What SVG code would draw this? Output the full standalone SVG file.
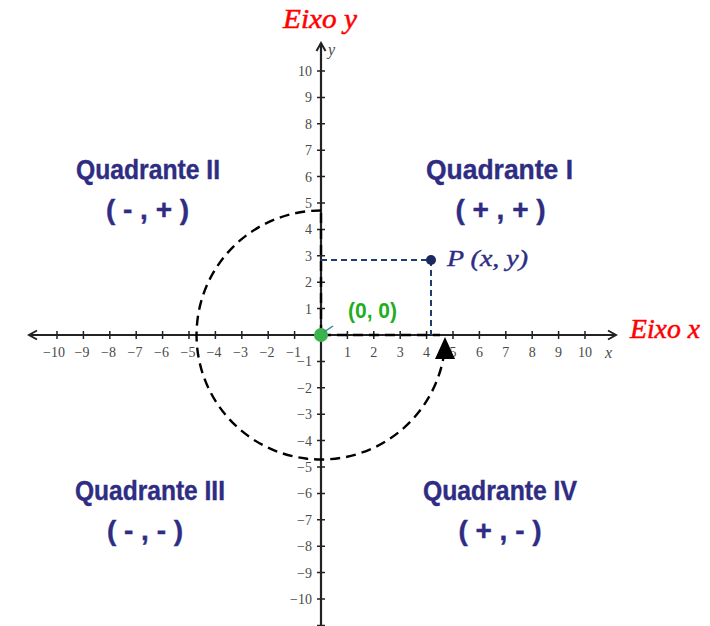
<svg xmlns="http://www.w3.org/2000/svg" width="710" height="626" viewBox="0 0 710 626">
<defs>
<style>
.ax{stroke:#222;stroke-width:2.2;fill:none}
.tk{stroke:#222;stroke-width:1.5;fill:none}
.tl{font-family:"Liberation Serif",serif;font-size:14px;fill:#4a4a4a}
.tx{text-anchor:middle}
.ty{text-anchor:end}
.q{font-family:"Liberation Sans",Arial,sans-serif;font-weight:bold;font-size:28px;fill:#2e2d83;stroke:#2e2d83;stroke-width:0.4}
.ax-lbl{font-family:"Liberation Serif",serif;font-style:italic;font-size:27px;fill:#ff0000;stroke:#ff0000;stroke-width:0.5}
.blue{stroke:#1f3d6e;stroke-width:2;stroke-dasharray:6 4;fill:none}
.blk{stroke:#000;stroke-width:2.4;stroke-dasharray:10 6;fill:none}
</style>
<marker id="chev" viewBox="0 0 12 12" refX="10" refY="6" markerWidth="12" markerHeight="12" markerUnits="userSpaceOnUse" orient="auto-start-reverse">
<path d="M2 1.5 L10 6 L2 10.5" stroke="#222" stroke-width="2" fill="none"/>
</marker>
</defs>
<rect width="710" height="626" fill="#fff"/>
<g id="axes">
<line class="ax" x1="29" y1="335" x2="616" y2="335" marker-start="url(#chev)" marker-end="url(#chev)"/>
<line class="ax" x1="321" y1="626" x2="321" y2="43" marker-end="url(#chev)"/>
<path class="tk" d="M57 331v8M83.4 331v8M109.8 331v8M136.2 331v8M162.6 331v8M189 331v8M215.4 331v8M241.8 331v8M268.2 331v8M294.6 331v8M347.4 331v8M373.8 331v8M400.2 331v8M426.6 331v8M453 331v8M479.4 331v8M505.8 331v8M532.2 331v8M558.6 331v8M585 331v8"/>
<path class="tk" d="M317 71h8M317 97.4h8M317 123.8h8M317 150.2h8M317 176.6h8M317 203h8M317 229.4h8M317 255.8h8M317 282.2h8M317 308.6h8M317 361.4h8M317 387.8h8M317 414.2h8M317 440.6h8M317 467h8M317 493.4h8M317 519.8h8M317 546.2h8M317 572.6h8M317 599h8M317 625.4h8"/>
<g class="tl tx">
<text x="54" y="357">−10</text><text x="82" y="357">−9</text><text x="108.5" y="357">−8</text><text x="135" y="357">−7</text><text x="161.5" y="357">−6</text><text x="188" y="357">−5</text><text x="214" y="357">−4</text><text x="240.5" y="357">−3</text><text x="267" y="357">−2</text><text x="293.5" y="357">−1</text>
<text x="347.4" y="357">1</text><text x="373.8" y="357">2</text><text x="400.2" y="357">3</text><text x="426.6" y="357">4</text><text x="453" y="357">5</text><text x="479.4" y="357">6</text><text x="505.8" y="357">7</text><text x="532.2" y="357">8</text><text x="558.6" y="357">9</text><text x="585" y="357">10</text>
</g>
<g class="tl ty">
<text x="312" y="76">10</text><text x="312" y="102.4">9</text><text x="312" y="128.8">8</text><text x="312" y="155.2">7</text><text x="312" y="181.6">6</text><text x="312" y="208">5</text><text x="312" y="234.4">4</text><text x="312" y="260.8">3</text><text x="312" y="287.2">2</text><text x="312" y="313.6">1</text>
<text x="312" y="366.4">−1</text><text x="312" y="392.8">−2</text><text x="312" y="419.2">−3</text><text x="312" y="445.6">−4</text><text x="312" y="472">−5</text><text x="312" y="498.4">−6</text><text x="312" y="524.8">−7</text><text x="312" y="551.2">−8</text><text x="312" y="577.6">−9</text><text x="312" y="604">−10</text>
</g>
<text class="tl" x="328" y="55" style="font-style:italic;font-size:16px">y</text>
<text class="tl" x="605" y="358" style="font-style:italic;font-size:16px">x</text>
</g>
<g id="connectors">
<path class="blk" d="M321 335V210.5"/>
<path class="blk" d="M321 335H440"/>
<path class="blk" d="M321 210.5A124.5 124.5 0 1 0 443.4 358"/>
<polygon points="445,337 435,359 455,359" fill="#000"/>
<path class="blue" d="M321 260H431V335"/>
</g>
<g id="eixo-y"><text class="ax-lbl" x="283" y="28" textLength="74" lengthAdjust="spacingAndGlyphs">Eixo y</text></g>
<g id="eixo-x"><text class="ax-lbl" x="630" y="338" textLength="70" lengthAdjust="spacingAndGlyphs">Eixo x</text></g>
<g id="origin">
<circle cx="321" cy="335" r="7" fill="#3cb44b"/>
<line x1="324" y1="332" x2="333" y2="326" stroke="#2a8a9a" stroke-width="1.5"/>
<text x="348" y="318" textLength="49" lengthAdjust="spacingAndGlyphs" style="font-family:'Liberation Sans',Arial,sans-serif;font-weight:bold;font-size:22px;fill:#1fae1f">(0, 0)</text>
</g>
<g id="point-p">
<circle cx="431" cy="260" r="5" fill="#1a2a5e"/>
<text x="447" y="266" textLength="81" lengthAdjust="spacingAndGlyphs" style="font-family:'Liberation Serif',serif;font-style:italic;font-size:23px;fill:#2e2d83;stroke:#2e2d83;stroke-width:0.4">P (x, y)</text>
</g>
<g id="q2"><text class="q" x="76" y="179" textLength="144" lengthAdjust="spacingAndGlyphs">Quadrante II</text><text class="q" x="147.5" y="219" text-anchor="middle">( - , + )</text></g>
<g id="q1"><text class="q" x="426" y="179" textLength="147" lengthAdjust="spacingAndGlyphs">Quadrante I</text><text class="q" x="500.5" y="219" text-anchor="middle">( + , + )</text></g>
<g id="q3"><text class="q" x="75" y="500" textLength="150" lengthAdjust="spacingAndGlyphs">Quadrante III</text><text class="q" x="145" y="540" text-anchor="middle">( - , - )</text></g>
<g id="q4"><text class="q" x="423" y="500" textLength="154" lengthAdjust="spacingAndGlyphs">Quadrante IV</text><text class="q" x="500" y="540" text-anchor="middle">( + , - )</text></g>
</svg>
